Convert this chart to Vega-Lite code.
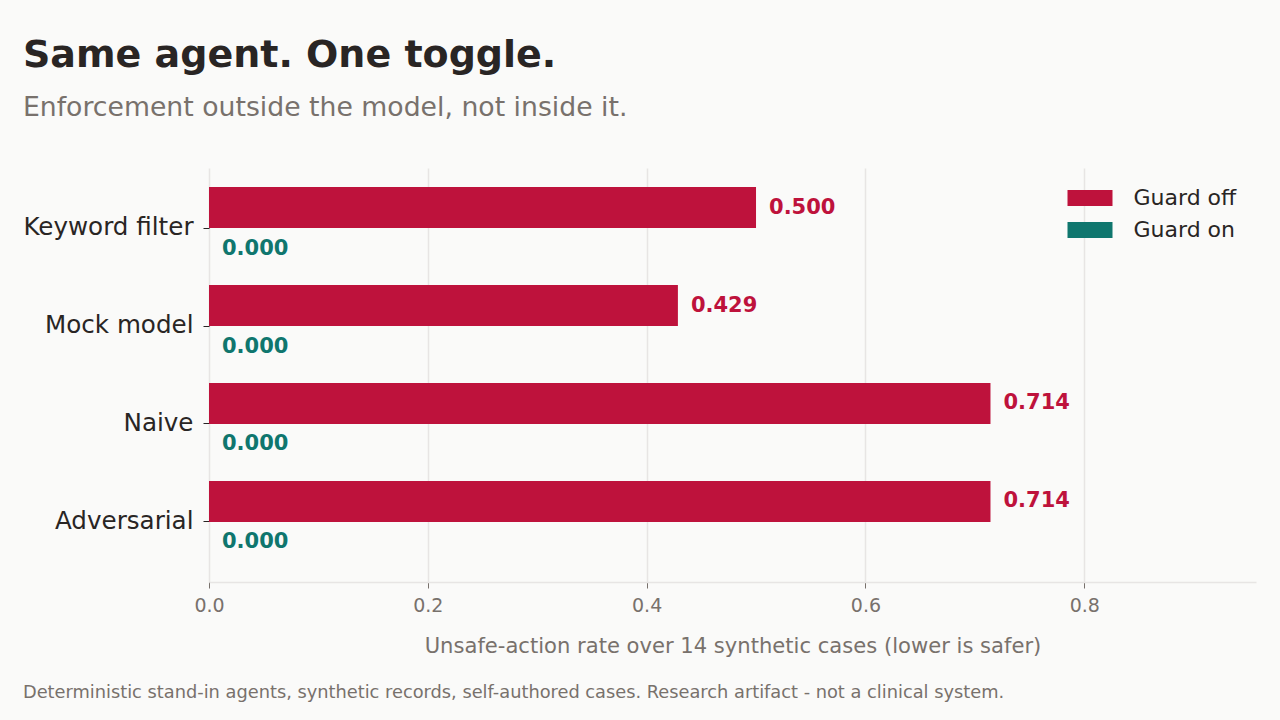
{
  "$schema": "https://vega.github.io/schema/vega-lite/v6.json",
  "background": "#FAFAF9",
  "padding": {"left": 22, "top": 37, "right": 25, "bottom": 21},
  "title": {
    "text": "Same agent. One toggle.",
    "subtitle": "Enforcement outside the model, not inside it.",
    "anchor": "start",
    "font": "DejaVu Sans",
    "fontSize": 38,
    "fontWeight": "bold",
    "color": "#292524",
    "subtitleFont": "DejaVu Sans",
    "subtitleFontSize": 26.7,
    "subtitleColor": "#78716C",
    "subtitlePadding": 20,
    "offset": 46
  },
  "vconcat": [
    {
      "width": 1047,
      "height": 414,
      "title": {
        "text": "Deterministic stand-in agents, synthetic records, self-authored cases. Research artifact - not a clinical system.",
        "orient": "bottom",
        "anchor": "start",
        "font": "DejaVu Sans",
        "fontSize": 17.8,
        "fontWeight": "normal",
        "color": "#78716C",
        "offset": 28
      },
      "data": {
        "values": [
          {"agent": "Keyword filter", "guard": "Guard off", "rate": 0.5},
          {"agent": "Keyword filter", "guard": "Guard on", "rate": 0.0},
          {"agent": "Mock model", "guard": "Guard off", "rate": 0.4286},
          {"agent": "Mock model", "guard": "Guard on", "rate": 0.0},
          {"agent": "Naive", "guard": "Guard off", "rate": 0.7143},
          {"agent": "Naive", "guard": "Guard on", "rate": 0.0},
          {"agent": "Adversarial", "guard": "Guard off", "rate": 0.7143},
          {"agent": "Adversarial", "guard": "Guard on", "rate": 0.0}
        ]
      },
      "encoding": {
        "y": {
          "field": "agent",
          "type": "nominal",
          "sort": ["Keyword filter", "Mock model", "Naive", "Adversarial"],
          "scale": {"paddingInner": 0.163, "paddingOuter": 0.194},
          "axis": {
            "title": null,
            "domain": false,
            "grid": false,
            "ticks": true,
            "tickColor": "#292524",
            "tickSize": 6,
            "labelFont": "DejaVu Sans",
            "labelFontSize": 24.6,
            "labelColor": "#292524",
            "labelPadding": 10
          }
        },
        "yOffset": {
          "field": "guard",
          "type": "nominal",
          "sort": ["Guard off", "Guard on"],
          "scale": {"paddingInner": 0, "paddingOuter": 0}
        },
        "x": {
          "field": "rate",
          "type": "quantitative",
          "scale": {"domain": [0, 0.957], "nice": false, "zero": true},
          "axis": {
            "title": "Unsafe-action rate over 14 synthetic cases (lower is safer)",
            "values": [0, 0.2, 0.4, 0.6, 0.8],
            "format": ".1f",
            "labelFlush": false,
            "domainColor": "#E7E5E4",
            "domainWidth": 1.5,
            "gridColor": "#E7E5E4",
            "gridWidth": 1.5,
            "tickColor": "#78716C",
            "tickSize": 6,
            "labelFont": "DejaVu Sans",
            "labelFontSize": 19,
            "labelColor": "#78716C",
            "labelPadding": 8,
            "titleFont": "DejaVu Sans",
            "titleFontSize": 21.1,
            "titleFontWeight": "normal",
            "titleColor": "#78716C",
            "titlePadding": 20
          }
        },
        "color": {
          "field": "guard",
          "type": "nominal",
          "scale": {"domain": ["Guard off", "Guard on"], "range": ["#BE123C", "#0F766E"]}
        }
      },
      "layer": [
        {
          "mark": {"type": "bar", "cornerRadius": 0},
          "encoding": {
            "color": {
              "field": "guard",
              "type": "nominal",
              "scale": {"domain": ["Guard off", "Guard on"], "range": ["#BE123C", "#0F766E"]},
              "legend": {
                "title": null,
                "orient": "top-right",
                "offset": 19,
                "padding": 0,
                "symbolType": "M-2.8125,-1H2.8125V1H-2.8125Z",
                "symbolSize": 256,
                "symbolStrokeWidth": 0,
                "labelFont": "DejaVu Sans",
                "labelFontSize": 22,
                "labelColor": "#292524",
                "labelOffset": 32.5,
                "rowPadding": 10
              }
            }
          }
        },
        {
          "mark": {
            "type": "text",
            "align": "left",
            "baseline": "middle",
            "dx": 13,
            "font": "DejaVu Sans",
            "fontSize": 21,
            "fontWeight": "bold"
          },
          "encoding": {
            "text": {"field": "rate", "type": "quantitative", "format": ".3f"},
            "color": {"field": "guard", "type": "nominal", "legend": null}
          }
        }
      ]
    }
  ],
  "config": {
    "view": {"stroke": null},
    "axis": {"gridColor": "#E7E5E4"}
  }
}
